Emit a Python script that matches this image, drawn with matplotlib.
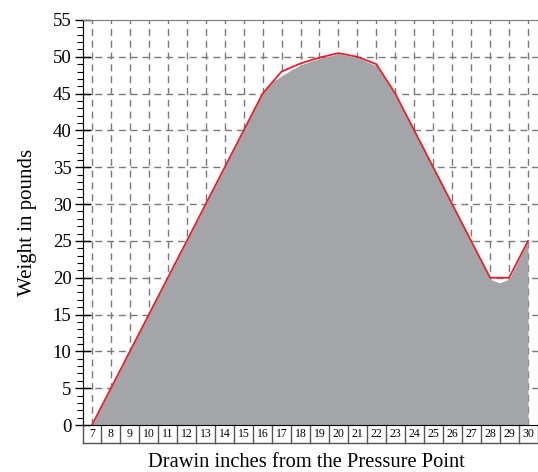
import matplotlib.pyplot as plt
from matplotlib.ticker import MultipleLocator

plt.rcParams['font.family'] = ['Liberation Serif', 'DejaVu Serif']

# dados
inches = [7, 8, 9, 10, 11, 12, 13, 14, 15, 16, 17, 18, 19, 20, 21, 22, 23, 24, 25, 26, 27, 28, 29, 30]
weight = [0, 5, 10, 15, 20, 25, 30, 35, 40, 45, 48, 49.1, 49.9, 50.5, 50, 49, 45, 40, 35, 30, 25, 20, 20, 25]

# area cinza (um pouco mais suave que a linha)
fill_x = [7, 8, 9, 10, 11, 12, 13, 14, 15, 16, 16.5, 17, 17.5, 18, 19, 20, 21, 22, 23, 24, 25, 26, 27, 28, 28.5, 29, 30]
fill_y = [0, 5, 10, 15, 20, 25, 30, 35, 40, 45, 46.6, 47.4, 48.2, 48.9, 49.8, 50.4, 49.9, 48.8, 44.8, 39.9, 34.9, 29.9, 24.9, 19.8, 19.3, 19.8, 25]

titulo_x = "Drawin inches from the Pressure Point"
titulo_y = "Weight in pounds"

fig = plt.figure(figsize=(5.38, 4.72), dpi=100)
ax = fig.add_axes([82.5 / 538, 47 / 472, 455 / 538, 405 / 472])

# grade tracejada
for xv in inches:
    ax.axvline(xv, color="#7a7a7a", lw=1, dashes=(5, 3.5), zorder=1)
for yv in range(5, 55, 5):
    ax.axhline(yv, color="#7a7a7a", lw=1, dashes=(5, 3.5), zorder=1)

ax.fill_between(fill_x, fill_y, 0, color="#a4a5a8", lw=0, zorder=2)
ax.plot(inches, weight, color="#e8202a", lw=1.3, zorder=3)

ax.set_xlim(6.5, 30.5)
ax.set_ylim(0, 55)

# eixo y
ax.yaxis.set_major_locator(MultipleLocator(5))
ax.yaxis.set_minor_locator(MultipleLocator(1))
ax.tick_params(axis="y", which="major", direction="inout", length=12, width=1, labelsize=13.5, pad=2)
ax.tick_params(axis="y", which="minor", direction="out", length=4, width=0.8)
ax.set_ylabel(titulo_y, fontsize=15, labelpad=11)

# eixo x com caixinhas
ax.set_xticks([])
box_h = 18 / 405
trans = ax.get_xaxis_transform()
for k in range(len(inches) + 1):
    xe = inches[0] - 0.5 + k
    ax.plot([xe, xe], [0, -box_h], color="#555555", lw=1, transform=trans, clip_on=False)
ax.plot([inches[0] - 0.5, inches[-1] + 0.5], [-box_h, -box_h], color="#555555", lw=1,
        transform=trans, clip_on=False)
for xv in inches:
    ax.text(xv, -box_h / 2, str(xv), transform=trans, ha="center", va="center", fontsize=8.5)
ax.text(0.492, -0.093, titulo_x, transform=ax.transAxes, ha="center", va="center", fontsize=14.8)

ax.spines["left"].set_color("black")
ax.spines["bottom"].set_color("black")
ax.spines["top"].set_color("#7a7a7a")
ax.spines["right"].set_color("#7a7a7a")

plt.savefig("out.png", dpi=100)
